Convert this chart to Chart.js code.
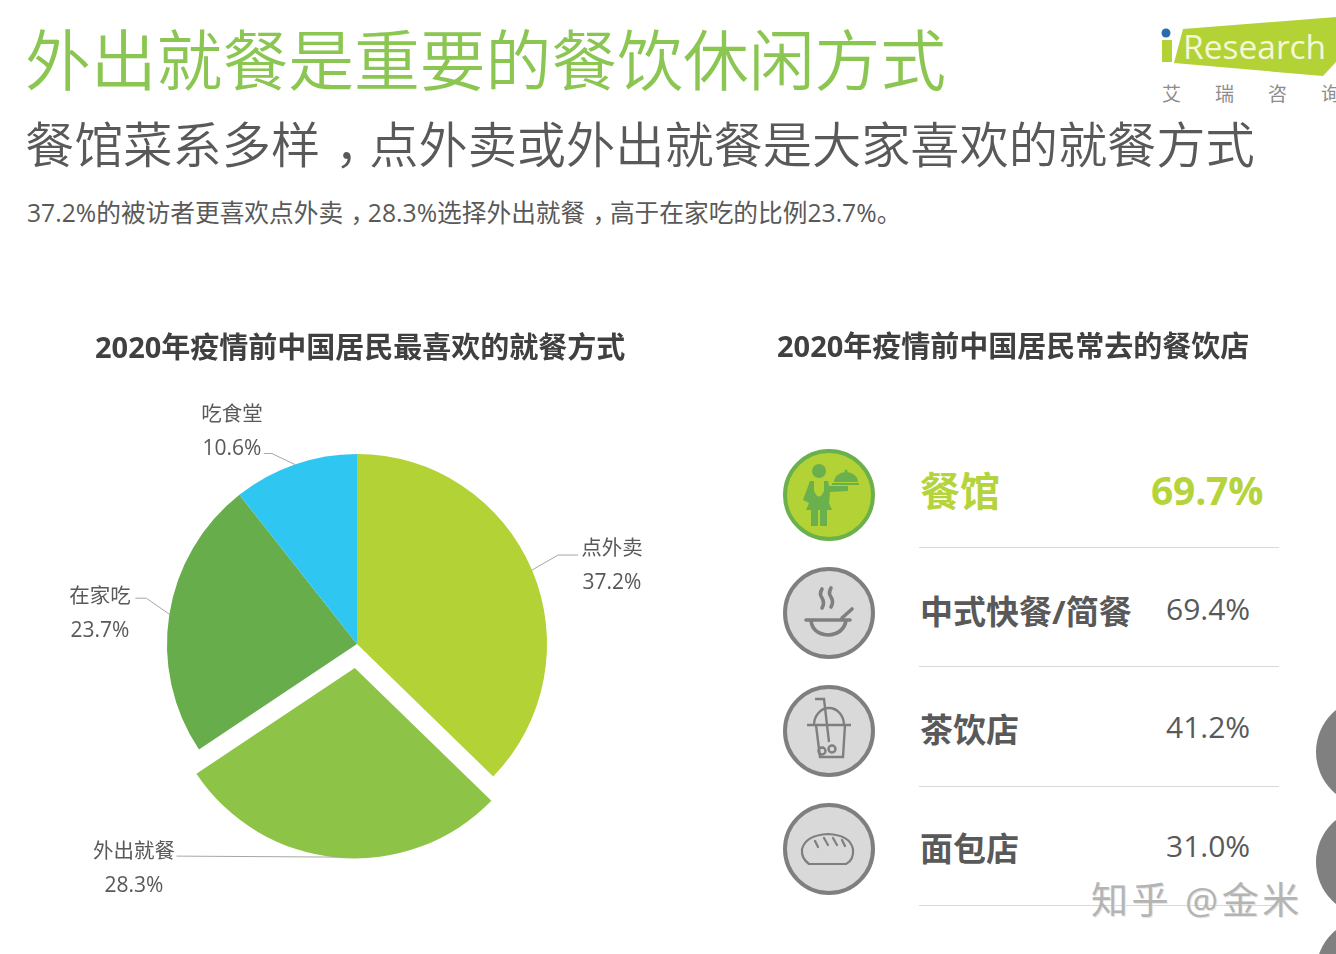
<!DOCTYPE html>
<html>
<head>
<meta charset="utf-8">
<script src="https://cdn.jsdelivr.net/npm/chart.js@4"></script>
<style>
html, body { margin: 0; padding: 0; background: #fff; }
#page { position: relative; width: 1336px; height: 954px; overflow: hidden; font-family: "Open Sans", "Noto Sans CJK SC", sans-serif; color: #595959; }
#page canvas { position: absolute; left: 0; top: 340px; }
#page svg { position: absolute; left: 0; top: 0; }
.t { position: absolute; white-space: nowrap; line-height: 1; }
.t span { position: relative; left: 0.3em; }
.rule { position: absolute; left: 919px; width: 360px; height: 1px; background: #d9d9d9; }
</style>
</head>
<body>
<div id="page">
  <svg width="1336" height="954" id="deco"></svg>
  <canvas id="pie" width="720" height="608"></canvas>
</div>
<script>
// textos
const titulo = '外出就餐是重要的餐饮休闲方式';
const subtitulo = '餐馆菜系多样，点外卖或外出就餐是大家喜欢的就餐方式';
const frase = '37.2%的被访者更喜欢点外卖，28.3%选择外出就餐，高于在家吃的比例23.7%。';
const tituloPizza = '2020年疫情前中国居民最喜欢的就餐方式';
const tituloLista = '2020年疫情前中国居民常去的餐饮店';

// pizza
const categorias = ['点外卖', '外出就餐', '在家吃', '吃食堂'];
const valores = [37.2, 28.3, 23.7, 10.6];
const cores = ['#b2d235', '#8dc447', '#67ad4b', '#2fc6f2'];
// o Chart.js desloca o arco em offset / 4
const deslocamentos = [0, 96, 0, 0];

// posição das etiquetas e das linhas de chamada
const etiquetaX = [612, 134, 100, 232];
const etiquetaY = [547, 850, 595, 413];
const chamadas = [
  [[26, -15], [46, -15]],
  [[-161, -1]],
  [[-23, -16], [-34, -16]],
  [[-23, -11], [-31, -11]]
];

// lista de restaurantes
const lojas = ['餐馆', '中式快餐/简餐', '茶饮店', '面包店'];
const lojasValores = [69.7, 69.4, 41.2, 31.0];
const lojasY = [495, 613, 731, 849];
const textoY = [491, 611, 729, 848];
const regraY = [547, 666, 786, 905];

const page = document.getElementById('page');

function texto(str, x, y, size, color, extra) {
  const d = document.createElement('div');
  d.className = 't';
  // a vírgula do original fica no meio da célula
  d.innerHTML = str.replace(/，/g, '<span>，</span>');
  d.style.left = x + 'px';
  d.style.top = (y - size / 2) + 'px';
  d.style.fontSize = size + 'px';
  d.style.color = color;
  Object.assign(d.style, extra || {});
  page.appendChild(d);
  return d;
}

texto(titulo, 25, 60, 65.8, '#8bc652', { fontWeight: 350 });
texto(subtitulo, 25, 144, 49.2, '#595959', { fontWeight: 350 });
texto(frase, 27, 213, 24.7, '#595959');
texto(tituloPizza, 95, 346, 29, '#404040', { fontWeight: 700 });
texto(tituloLista, 777, 345, 29, '#404040', { fontWeight: 700 });

lojas.forEach((nome, i) => {
  const destaque = i === 0;
  const cor = destaque ? '#b5d43c' : '#595959';
  texto(nome, 920, textoY[i], destaque ? 40 : 33, cor, { fontWeight: 700 });
  const valor = lojasValores[i].toFixed(1) + '%';
  if (destaque) {
    texto(valor, 1151, textoY[i] - 2, 39, cor, { fontWeight: 700, letterSpacing: '-0.2px' });
  } else {
    texto(valor, 1166, textoY[i] - 2, 30, cor);
  }
  const r = document.createElement('div');
  r.className = 'rule';
  r.style.top = regraY[i] + 'px';
  page.appendChild(r);
});

// logo, ícones e círculos da margem
const cinza = '#7f7f7f';
let svg = '';
svg += '<polygon points="1183,29 1336,17 1336,62 1323,76 1174,63" fill="#b2d235"/>';
svg += '<polygon points="1162,40 1172,40 1172,62 1162,62" fill="#b2d235"/>';
svg += '<circle cx="1166" cy="33" r="4.5" fill="#2a6ab0"/>';
lojasY.forEach((y, i) => {
  svg += i === 0
    ? `<circle cx="829" cy="${y}" r="44" fill="#b2d235" stroke="#6ab04c" stroke-width="4"/>`
    : `<circle cx="829" cy="${y}" r="44" fill="#d9d9d9" stroke="${cinza}" stroke-width="4"/>`;
});
// garçonete
svg += `<g fill="#6ab04c">
  <circle cx="819" cy="471" r="7"/>
  <path d="M810 481 L828 481 L829 486 L848 486 L848 491 L830 492 L829 503 L832 510 L806 510 L809 503 L803 500 Z"/>
  <rect x="811" y="510" width="7" height="16"/><rect x="820" y="510" width="7" height="16"/>
  <path d="M834 482 A12 10 0 0 1 858 482 Z"/><rect x="832" y="483" width="27" height="2"/><circle cx="846" cy="471" r="1.5"/>
</g>
<path d="M814 481 L814 491 Q819 502 824 491 L824 481 Z" fill="#b2d235"/>`;
// tigela
svg += `<g fill="none" stroke="${cinza}" stroke-width="3.6" stroke-linecap="round">
  <path d="M822 589 q-3 5 0 9 q3 5 0 10"/><path d="M831 588 q-3 5 0 9 q3 5 0 10"/>
  <path d="M806 620 L850 620"/><path d="M842 618 L852 609"/>
  <path d="M811 621 Q813 634 828 635 Q843 634 846 621"/>
</g>`;
// copo
svg += `<g fill="none" stroke="${cinza}" stroke-width="2.4">
  <path d="M815 699 L824 699 L829 742"/><path d="M807 725 L851 725"/>
  <path d="M814 725 A15 17 0 0 1 844 725"/><path d="M816 725 L820 757 L843 757 L845 725"/>
  <circle cx="822" cy="751" r="3.5"/><circle cx="832" cy="749" r="3.5"/>
</g>`;
// pão
svg += `<g fill="none" stroke="${cinza}" stroke-width="2.2" stroke-linecap="round">
  <path d="M809 864 Q801 858 802 849 Q806 835 828 834 Q850 835 853 849 Q854 860 846 864 Z"/>
  <path d="M815 841 l3 6"/><path d="M824 838 l4 7"/><path d="M833 838 l4 7"/><path d="M842 840 l3 6"/>
</g>`;
[752, 862, 972].forEach(y => { svg += `<circle cx="1370" cy="${y}" r="54" fill="#808080"/>`; });
document.getElementById('deco').innerHTML = svg;

texto('Research', 1183, 47, 33.5, '#f4f8d6');
['艾', '瑞', '咨', '询'].forEach((c, i) => {
  texto(c, 1162 + i * 53, 94, 19, '#8c8c8c');
});

// marca d'água
texto('知乎 @金米', 1091, 899, 37, '#b4b4b4', { letterSpacing: '3.5px', textShadow: '1px 1px 0 #e6e6e6' });

// etiquetas e linhas de chamada da pizza
const etiquetasPlugin = {
  id: 'etiquetas',
  afterDatasetsDraw(chart) {
    const ctx = chart.ctx;
    const topo = chart.canvas.offsetTop;
    const arcos = chart.getDatasetMeta(0).data;
    ctx.save();
    ctx.strokeStyle = '#a6a6a6';
    ctx.lineWidth = 1;
    arcos.forEach((arco, i) => {
      const p = arco.getProps(['x', 'y', 'startAngle', 'endAngle', 'outerRadius'], true);
      const meio = (p.startAngle + p.endAngle) / 2;
      const r = p.outerRadius + deslocamentos[i] / 4;
      const x0 = p.x + Math.cos(meio) * r;
      const y0 = p.y + Math.sin(meio) * r;
      ctx.beginPath();
      ctx.moveTo(x0, y0);
      chamadas[i].forEach(d => ctx.lineTo(x0 + d[0], y0 + d[1]));
      ctx.stroke();
      ctx.textAlign = 'center';
      ctx.textBaseline = 'middle';
      ctx.fillStyle = '#595959';
      ctx.font = '20.5px "Noto Sans CJK SC", sans-serif';
      ctx.fillText(categorias[i], etiquetaX[i], etiquetaY[i] - topo);
      ctx.font = '21px "Open Sans", sans-serif';
      ctx.fillText(valores[i].toFixed(1) + '%', etiquetaX[i], etiquetaY[i] + 36 - topo);
    });
    ctx.restore();
  }
};

new Chart(document.getElementById('pie'), {
  type: 'pie',
  data: {
    labels: categorias,
    datasets: [{
      data: valores,
      backgroundColor: cores,
      borderWidth: 0,
      offset: deslocamentos,
      hoverOffset: 0
    }]
  },
  options: {
    responsive: false,
    animation: false,
    devicePixelRatio: 1,
    radius: 190,
    layout: { padding: { right: 6 } },
    plugins: { legend: { display: false }, tooltip: { enabled: false } }
  },
  plugins: [etiquetasPlugin]
});
</script>
</body>
</html>
